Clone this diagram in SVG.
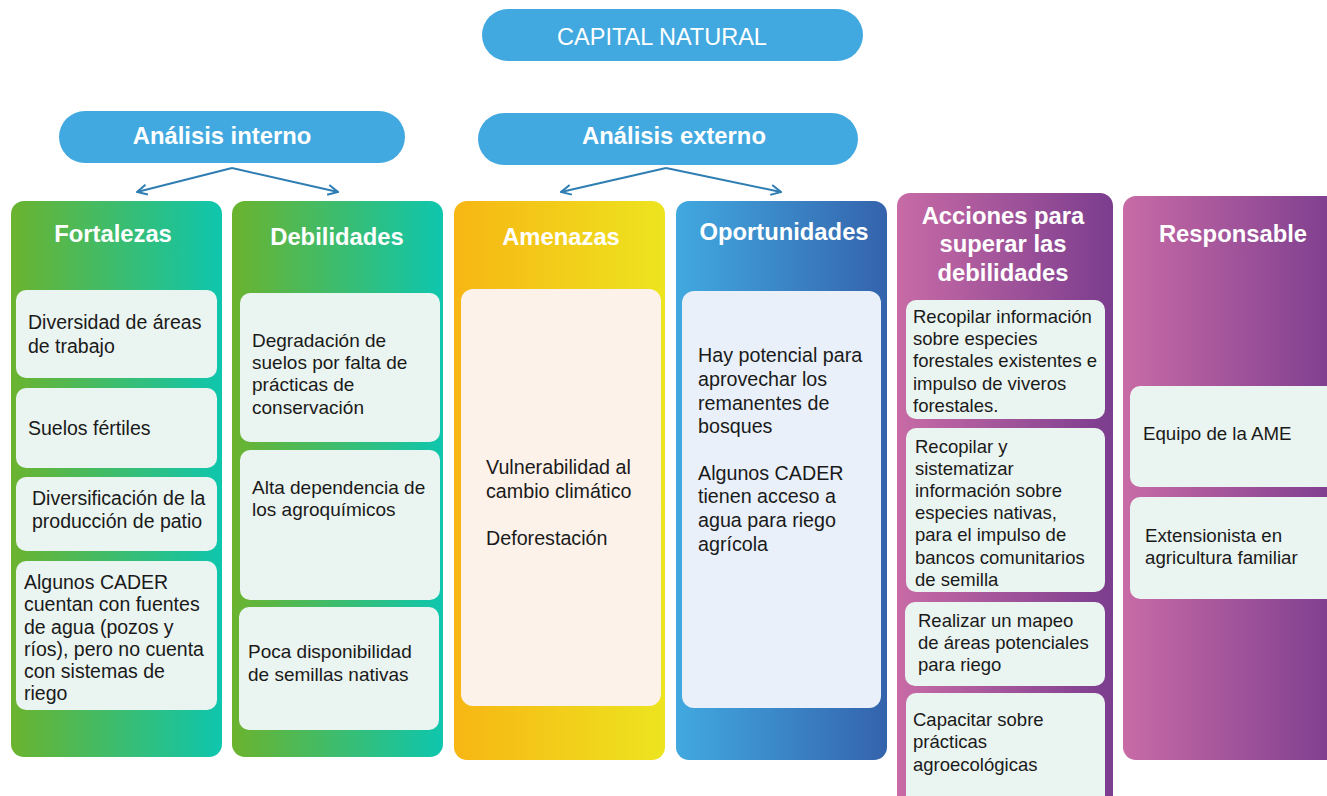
<svg xmlns="http://www.w3.org/2000/svg" width="1327" height="796" viewBox="0 0 1327 796">
<defs>
<linearGradient id="gGreen" x1="0" y1="0" x2="1" y2="0"><stop offset="0" stop-color="#6BB32E"/><stop offset="1" stop-color="#0EC6AE"/></linearGradient>
<linearGradient id="gYellow" x1="0" y1="0" x2="1" y2="0"><stop offset="0" stop-color="#F7B614"/><stop offset="1" stop-color="#EDE41F"/></linearGradient>
<linearGradient id="gBlue" x1="0" y1="0" x2="1" y2="0"><stop offset="0" stop-color="#41A9E0"/><stop offset="1" stop-color="#3463AC"/></linearGradient>
<linearGradient id="gPurple" x1="0" y1="0" x2="1" y2="0"><stop offset="0" stop-color="#C86BA6"/><stop offset="1" stop-color="#7B3D8E"/></linearGradient>
<marker id="arr" viewBox="0 0 12 12" refX="11" refY="6" markerWidth="12" markerHeight="12" markerUnits="userSpaceOnUse" orient="auto">
<path d="M1,1 L11,6 L1,11" fill="none" stroke="#2E7DB3" stroke-width="2"/>
</marker>
<style>
.pill{fill:#41A9E0}
.box{fill:#EAF4F0}
.ttl{font-family:"Liberation Sans",Arial,sans-serif;font-size:23.5px;fill:#fff;text-anchor:middle}
.hd{font-family:"Liberation Sans",Arial,sans-serif;font-size:23.8px;font-weight:bold;fill:#fff;text-anchor:middle}
.tx{font-family:"Liberation Sans",Arial,sans-serif;font-size:18.5px;fill:#1a1a1a}
.f{font-size:19.5px}
.d{font-size:19px}
.o{font-size:19.7px}
.r{font-size:18.7px}
.conn{fill:none;stroke:#2E7DB3;stroke-width:2;marker-end:url(#arr)}
</style>
</defs>
<rect width="1327" height="796" fill="#fff"/>

<g id="capital-natural">
<rect class="pill" x="482" y="9" width="381" height="52" rx="26"/>
<text class="ttl" x="662" y="45">CAPITAL NATURAL</text>
</g>

<g id="analisis-interno">
<rect class="pill" x="59" y="111" width="346" height="52" rx="26"/>
<text class="hd" x="222" y="144">Análisis interno</text>
</g>

<g id="analisis-externo">
<rect class="pill" x="478" y="113" width="380" height="52" rx="26"/>
<text class="hd" x="674" y="144">Análisis externo</text>
</g>

<g id="connectors">
<path class="conn" d="M232,168 L137,192"/>
<path class="conn" d="M232,168 L338,192"/>
<path class="conn" d="M666,168 L561,192"/>
<path class="conn" d="M666,168 L781,192"/>
</g>

<g id="fortalezas">
<rect x="11" y="201" width="211" height="556" rx="13" fill="url(#gGreen)"/>
<text class="hd" x="113" y="242">Fortalezas</text>
<rect class="box" x="16" y="290" width="201" height="88" rx="10"/>
<text class="tx f" x="28" y="329">Diversidad de áreas</text>
<text class="tx f" x="28" y="353">de trabajo</text>
<rect class="box" x="16" y="388" width="201" height="80" rx="10"/>
<text class="tx f" x="28" y="435">Suelos fértiles</text>
<rect class="box" x="16" y="477" width="201" height="74" rx="10"/>
<text class="tx f" x="32" y="505">Diversificación de la</text>
<text class="tx f" x="32" y="528">producción de patio</text>
<rect class="box" x="16" y="561" width="201" height="149" rx="10"/>
<text class="tx f" x="24" y="589">Algunos CADER</text>
<text class="tx f" x="24" y="611">cuentan con fuentes</text>
<text class="tx f" x="24" y="634">de agua (pozos y</text>
<text class="tx f" x="24" y="656">ríos), pero no cuenta</text>
<text class="tx f" x="24" y="678">con sistemas de</text>
<text class="tx f" x="24" y="700">riego</text>
</g>

<g id="debilidades">
<rect x="232" y="201" width="211" height="556" rx="13" fill="url(#gGreen)"/>
<text class="hd" x="337" y="245">Debilidades</text>
<rect class="box" x="240" y="293" width="200" height="149" rx="10"/>
<text class="tx d" x="252" y="347">Degradación de</text>
<text class="tx d" x="252" y="369">suelos por falta de</text>
<text class="tx d" x="252" y="391">prácticas de</text>
<text class="tx d" x="252" y="414">conservación</text>
<rect class="box" x="240" y="450" width="200" height="150" rx="10"/>
<text class="tx d" x="252" y="494">Alta dependencia de</text>
<text class="tx d" x="252" y="516">los agroquímicos</text>
<rect class="box" x="239" y="607" width="200" height="123" rx="10"/>
<text class="tx d" x="248" y="658">Poca disponibilidad</text>
<text class="tx d" x="248" y="681">de semillas nativas</text>
</g>

<g id="amenazas">
<rect x="454" y="201" width="211" height="559" rx="13" fill="url(#gYellow)"/>
<text class="hd" x="561" y="245">Amenazas</text>
<rect x="461" y="289" width="200" height="417" rx="12" fill="#FDF2EA"/>
<text class="tx o" x="486" y="474">Vulnerabilidad al</text>
<text class="tx o" x="486" y="498">cambio climático</text>
<text class="tx o" x="486" y="545">Deforestación</text>
</g>

<g id="oportunidades">
<rect x="676" y="201" width="211" height="559" rx="13" fill="url(#gBlue)"/>
<text class="hd" x="784" y="240">Oportunidades</text>
<rect x="682" y="291" width="199" height="417" rx="12" fill="#E9F0F9"/>
<text class="tx o" x="698" y="362">Hay potencial para</text>
<text class="tx o" x="698" y="386">aprovechar los</text>
<text class="tx o" x="698" y="410">remanentes de</text>
<text class="tx o" x="698" y="433">bosques</text>
<text class="tx o" x="698" y="480">Algunos CADER</text>
<text class="tx o" x="698" y="503">tienen acceso a</text>
<text class="tx o" x="698" y="527">agua para riego</text>
<text class="tx o" x="698" y="551">agrícola</text>
</g>

<g id="acciones">
<rect x="897" y="193" width="216" height="620" rx="13" fill="url(#gPurple)"/>
<text class="hd" x="1003" y="224">Acciones para</text>
<text class="hd" x="1003" y="252">superar las</text>
<text class="hd" x="1003" y="281">debilidades</text>
<rect class="box" x="906" y="300" width="199" height="119" rx="10"/>
<text class="tx" x="913" y="323">Recopilar información</text>
<text class="tx" x="913" y="345">sobre especies</text>
<text class="tx" x="913" y="367">forestales existentes e</text>
<text class="tx" x="913" y="390">impulso de viveros</text>
<text class="tx" x="913" y="412">forestales.</text>
<rect class="box" x="906" y="428" width="199" height="164" rx="10"/>
<text class="tx" x="915" y="453">Recopilar y</text>
<text class="tx" x="915" y="475">sistematizar</text>
<text class="tx" x="915" y="497">información sobre</text>
<text class="tx" x="915" y="519">especies nativas,</text>
<text class="tx" x="915" y="541">para el impulso de</text>
<text class="tx" x="915" y="564">bancos comunitarios</text>
<text class="tx" x="915" y="586">de semilla</text>
<rect class="box" x="905" y="602" width="200" height="84" rx="10"/>
<text class="tx" x="918" y="627">Realizar un mapeo</text>
<text class="tx" x="918" y="649">de áreas potenciales</text>
<text class="tx" x="918" y="671">para riego</text>
<rect class="box" x="906" y="693" width="199" height="120" rx="10"/>
<text class="tx" x="913" y="726">Capacitar sobre</text>
<text class="tx" x="913" y="748">prácticas</text>
<text class="tx" x="913" y="771">agroecológicas</text>
</g>

<g id="responsable">
<rect x="1123" y="196" width="220" height="564" rx="13" fill="url(#gPurple)"/>
<text class="hd" x="1233" y="242">Responsable</text>
<rect class="box" x="1130" y="386" width="210" height="101" rx="10"/>
<text class="tx r" x="1143" y="440">Equipo de la AME</text>
<rect class="box" x="1130" y="497" width="210" height="102" rx="10"/>
<text class="tx r" x="1145" y="542">Extensionista en</text>
<text class="tx r" x="1145" y="564">agricultura familiar</text>
</g>
</svg>
